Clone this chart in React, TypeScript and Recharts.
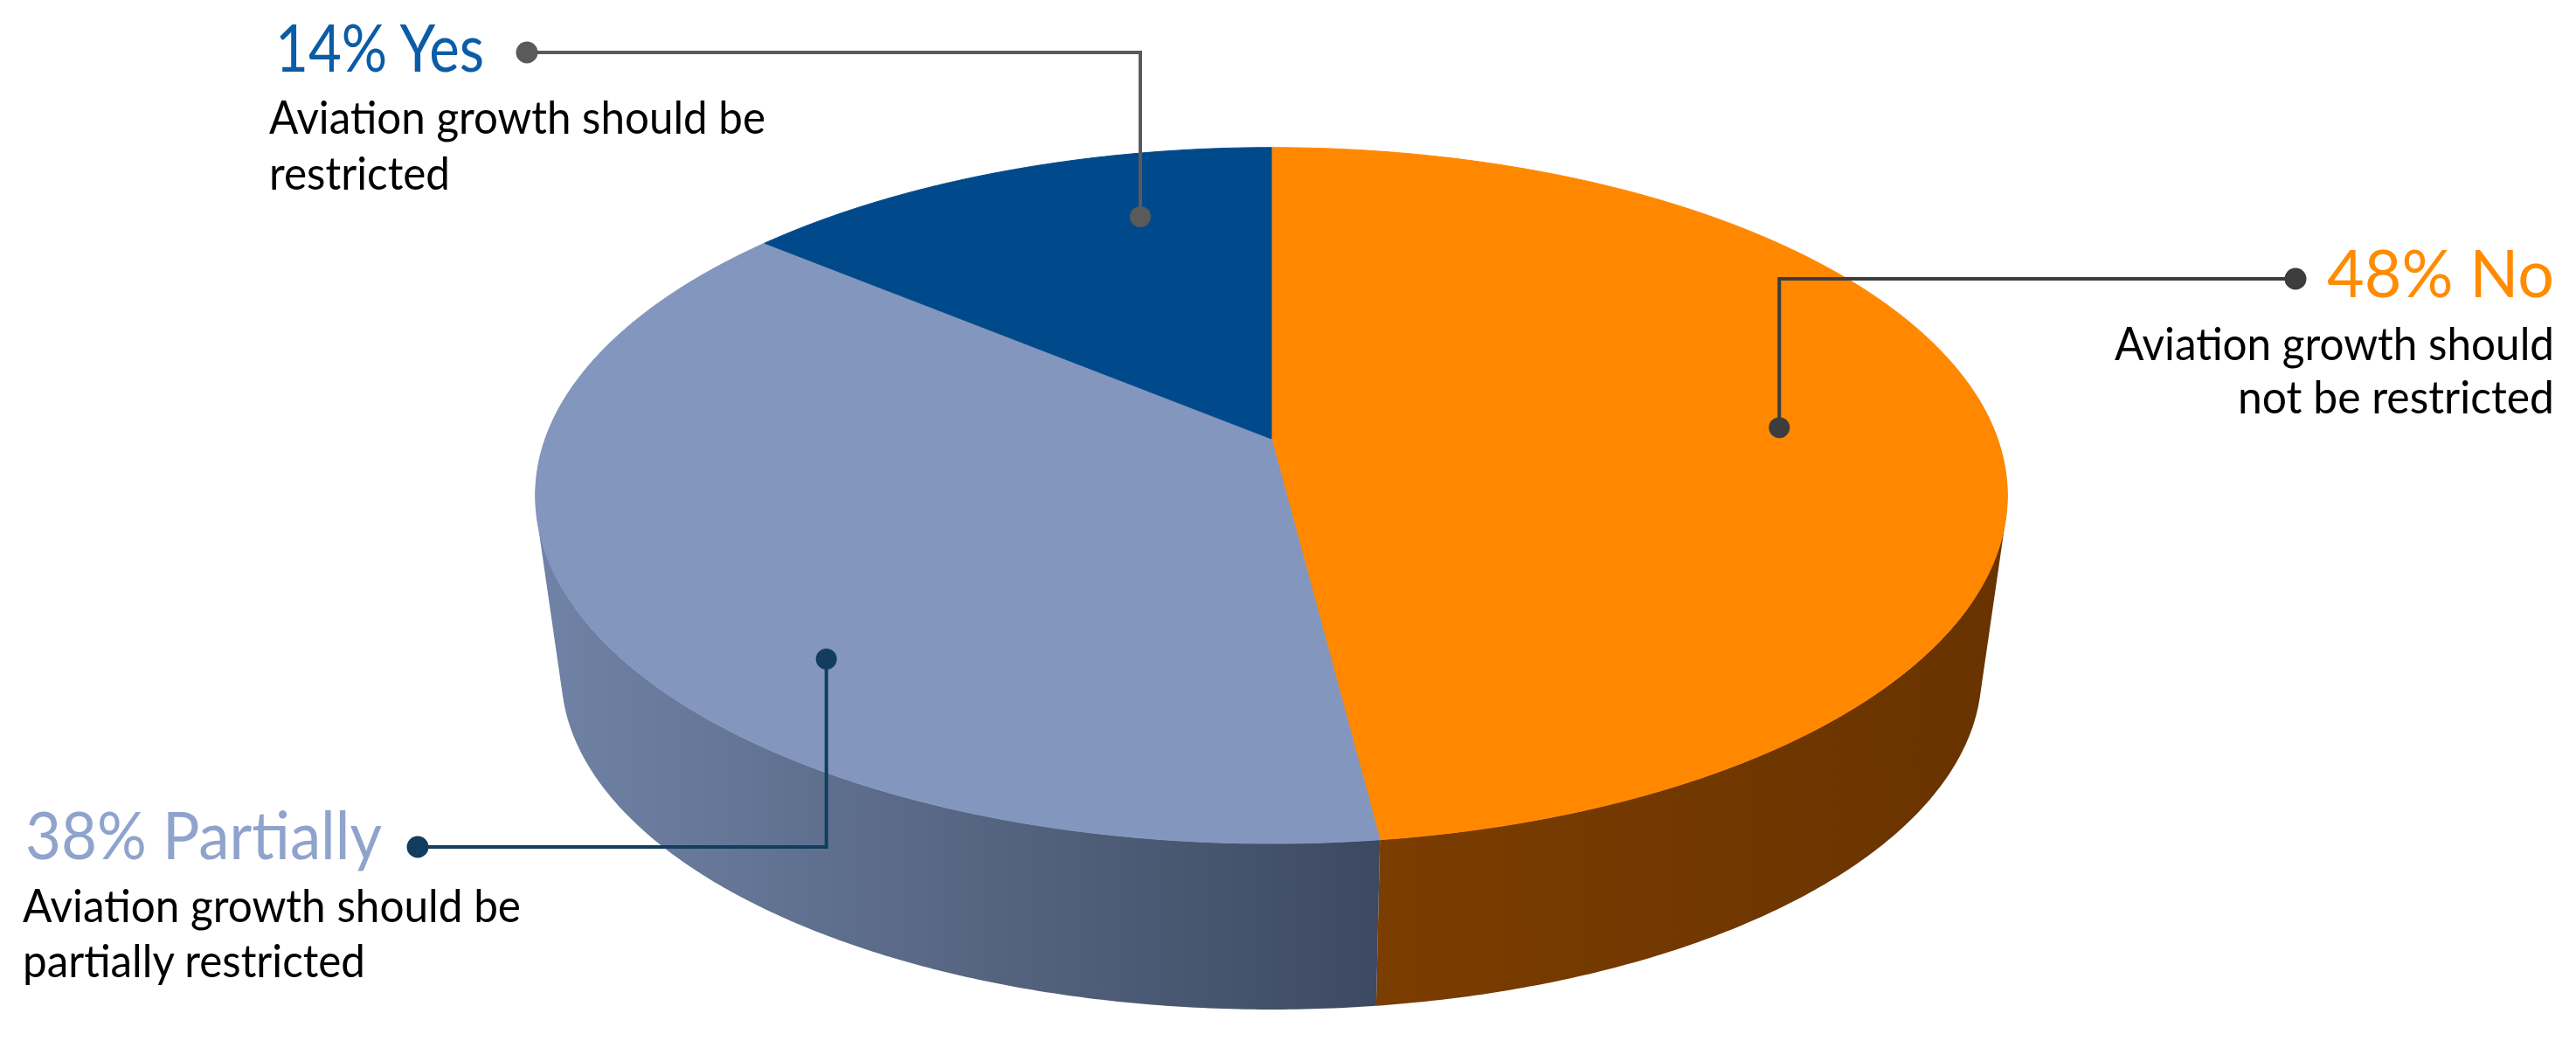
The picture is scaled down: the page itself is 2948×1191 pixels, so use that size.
import React from 'react';
import { PieChart, Pie } from 'recharts';

// ---------- data ----------
const categories = ['No', 'Partially', 'Yes'];
const shares = [48, 38, 14];
const descriptions = [
  ['Aviation growth should', 'not be restricted'],
  ['Aviation growth should be', 'partially restricted'],
  ['Aviation growth should be', 'restricted'],
];

// ---------- styles ----------
const topColors = ['#FF8800', '#8396BE', '#004A8B'];
const wallStops = [
  ['#7B3D00', '#683300'],
  ['#7183A6', '#3C4960'],
  ['#00386A', '#002A50'],
];
const titleColors = ['#FF8C00', '#8FA3CC', '#0B5CA6'];

const W = 2948;
const H = 1191;
const CX = 1455;
const CY = 502;
const R = 831;
const K = 0.163; // perspective strength
const B_RATIO = 0.4664; // vertical squash of the disc
const DEPTH_RATIO = 0.248;
const BOTTOM_SCALE = 0.965;
const FONT = 'Lato, "Open Sans", sans-serif';

// annotation layout (per data index)
const annotations = [
  {
    anchorAngle: 87.3, anchorR: 0.704, elbowY: 319, endX: 2627, line: '#3D3D3D',
    titleX: 2663, titleY: 340, titleW: 260,
    descRight: 2923, descYs: [412, 473], descWs: [503, 362], align: 'right',
  },
  {
    anchorAngle: 223.3, anchorR: 0.808, elbowY: 969, endX: 478, line: '#123D5F',
    titleX: 29, titleY: 983, titleW: 408,
    descLeft: 26, descYs: [1055, 1118], descWs: [570, 392], align: 'left',
  },
  {
    anchorAngle: 344.6, anchorR: 0.761, elbowY: 60, endX: 603, line: '#5A5A5A',
    titleX: 315, titleY: 82, titleW: 239,
    descLeft: 308, descYs: [153, 217], descWs: [568, 207], align: 'left',
  },
];

const data = categories.map((name, i) => ({ name, value: shares[i], idx: i }));

// ---------- geometry helpers ----------
function project(cx: number, cy: number, r: number, thetaDeg: number, frac = 1, bottom = false) {
  const t = (thetaDeg * Math.PI) / 180;
  const u = frac * Math.sin(t);
  const v = -frac * Math.cos(t);
  const w = 1 - K * v;
  let x = cx + (r * u) / w;
  let y = cy + (r * B_RATIO * v) / w;
  if (bottom) {
    x = cx + BOTTOM_SCALE * (x - cx);
    y = cy + r * DEPTH_RATIO + BOTTOM_SCALE * (y - cy);
  }
  return [x, y];
}

function arcPoints(cx: number, cy: number, r: number, t0: number, t1: number, bottom = false) {
  const pts: number[][] = [];
  const n = Math.max(2, Math.ceil(Math.abs(t1 - t0) / 0.5));
  for (let i = 0; i <= n; i++) {
    pts.push(project(cx, cy, r, t0 + ((t1 - t0) * i) / n, 1, bottom));
  }
  return pts;
}

function getIdx(props: any) {
  const p = props.payload || {};
  if (typeof p.idx === 'number') return p.idx;
  if (p.payload && typeof p.payload.idx === 'number') return p.payload.idx;
  const n = p.name ?? props.name;
  const k = categories.indexOf(n);
  return k >= 0 ? k : 0;
}

function thetaRange(props: any) {
  let a = 90 - props.startAngle;
  let b = 90 - props.endAngle;
  if (a > b) [a, b] = [b, a];
  return [a, b];
}

const f2 = (p: number[]) => `${p[0].toFixed(2)},${p[1].toFixed(2)}`;

const TopShape = (props: any) => {
  const cx = Number(props.cx ?? CX);
  const cy = Number(props.cy ?? CY);
  const r = Number(props.outerRadius ?? R);
  const [t0, t1] = thetaRange(props);
  const i = getIdx(props);
  const pts = arcPoints(cx, cy, r, t0, t1);
  const d = `M${cx},${cy} ` + pts.map((p) => `L${f2(p)}`).join(' ') + ' Z';
  return <path d={d} fill={topColors[i]} stroke={topColors[i]} strokeWidth={1} strokeLinejoin="round" />;
};

// visible side of the disc lies between the two silhouette extremes
const EXT = (Math.acos(K) * 180) / Math.PI; // angle from bottom where the outline is widest
const SIDE_FROM = 180 - (180 - EXT) - 0.5;
const SIDE_TO = 180 + (180 - EXT) + 0.5;

const WallShape = (props: any) => {
  const cx = Number(props.cx ?? CX);
  const cy = Number(props.cy ?? CY);
  const r = Number(props.outerRadius ?? R);
  let [t0, t1] = thetaRange(props);
  t0 = Math.max(t0, SIDE_FROM);
  t1 = Math.min(t1, SIDE_TO);
  if (t1 <= t0) return <g />;
  const i = getIdx(props);
  const top = arcPoints(cx, cy, r, t0, t1);
  const bot = arcPoints(cx, cy, r, t0, t1, true);
  let d = '';
  for (let j = 0; j < top.length - 1; j++) {
    let q = [top[j], top[j + 1], bot[j + 1], bot[j]];
    // consistent winding so every quad unions under nonzero rule
    let area = 0;
    for (let m = 0; m < 4; m++) {
      const a = q[m];
      const b = q[(m + 1) % 4];
      area += a[0] * b[1] - b[0] * a[1];
    }
    if (area < 0) q = q.slice().reverse();
    d += `M${f2(q[0])} L${f2(q[1])} L${f2(q[2])} L${f2(q[3])} Z `;
  }
  const gid = `wallGrad${i}`;
  return (
    <g>
      <defs>
        <linearGradient id={gid} x1="0" y1="0" x2="1" y2="0">
          <stop offset="0%" stopColor={wallStops[i][0]} />
          <stop offset="100%" stopColor={wallStops[i][1]} />
        </linearGradient>
      </defs>
      <path d={d} fill={`url(#${gid})`} fillRule="nonzero" stroke="none" />
    </g>
  );
};

const renderAnnotation = (props: any) => {
  const i = typeof props.index === 'number' ? props.index : getIdx(props);
  const cx = Number(props.cx ?? CX);
  const cy = Number(props.cy ?? CY);
  const r = Number(props.outerRadius ?? R);
  const L: any = annotations[i];
  const [ax, ay] = project(cx, cy, r, L.anchorAngle, L.anchorR);
  const title = `${shares[i]}% ${categories[i]}`;
  const lines = descriptions[i];
  return (
    <g key={`ann-${i}`}>
      <polyline
        points={`${ax},${ay} ${ax},${L.elbowY} ${L.endX},${L.elbowY}`}
        fill="none"
        stroke={L.line}
        strokeWidth={4}
      />
      <circle cx={ax} cy={ay} r={12} fill={L.line} />
      <circle cx={L.endX} cy={L.elbowY} r={12.5} fill={L.line} />
      <text
        x={L.titleX}
        y={L.titleY}
        fill={titleColors[i]}
        fontFamily={FONT}
        fontSize={75}
        textLength={L.titleW}
        lengthAdjust="spacingAndGlyphs"
      >
        {title}
      </text>
      {lines.map((ln: string, j: number) => {
        const x = L.align === 'right' ? L.descRight - L.descWs[j] : L.descLeft;
        return (
          <text
            key={j}
            x={x}
            y={L.descYs[j]}
            fill="#000000"
            fontFamily={FONT}
            fontSize={52}
            textLength={L.descWs[j]}
            lengthAdjust="spacingAndGlyphs"
          >
            {ln}
          </text>
        );
      })}
    </g>
  );
};

export default function App() {
  return (
    <div style={{ position: 'absolute', left: 0, top: 0, width: W, height: H, background: '#ffffff' }}>
      <PieChart width={W} height={H} margin={{ top: 0, right: 0, bottom: 0, left: 0 }}>
        <Pie
          data={data}
          dataKey="value"
          nameKey="name"
          cx={CX}
          cy={CY}
          innerRadius={0}
          outerRadius={R}
          startAngle={90}
          endAngle={-270}
          stroke="none"
          isAnimationActive={false}
          shape={WallShape}
          inactiveShape={WallShape}
          activeShape={WallShape}
          label={false}
          labelLine={false}
        />
        <Pie
          data={data}
          dataKey="value"
          nameKey="name"
          cx={CX}
          cy={CY}
          innerRadius={0}
          outerRadius={R}
          startAngle={90}
          endAngle={-270}
          stroke="none"
          isAnimationActive={false}
          shape={TopShape}
          inactiveShape={TopShape}
          activeShape={TopShape}
          label={renderAnnotation}
          labelLine={false}
        />
      </PieChart>
    </div>
  );
}
